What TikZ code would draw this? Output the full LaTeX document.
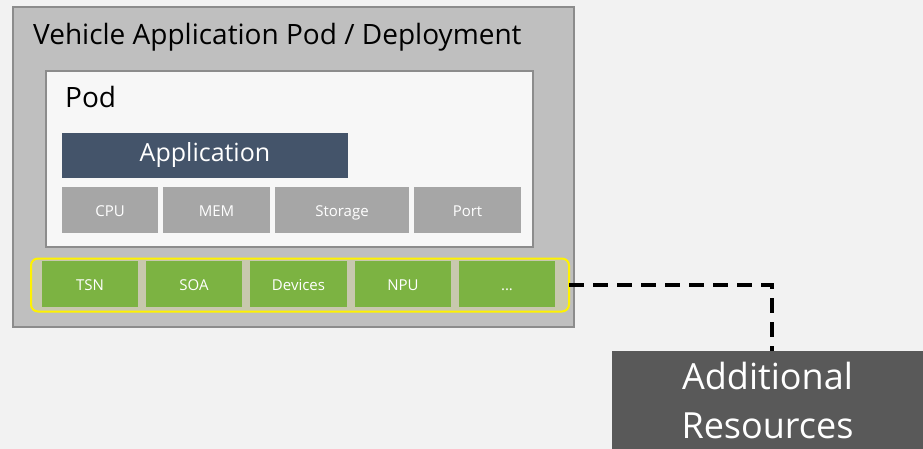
\documentclass[tikz,border=0pt]{standalone}
\usepackage{fontspec}
\setmainfont{Open Sans}
\begin{document}
\begin{tikzpicture}[x=1pt,y=-1pt,
  box/.style={rectangle,inner sep=0pt,outer sep=0pt},
  small/.style={text height=14pt,text depth=2pt,font=\fontsize{15}{18}\selectfont},
  res/.style={box,fill=resgray,minimum height=46pt,text=white,small},
  grn/.style={box,fill=greenbox,minimum height=46pt,text=white,small},
  title/.style={anchor=base west,inner sep=0pt,font=\fontsize{28}{32}\selectfont}]
\definecolor{bg}{HTML}{F2F2F2}
\definecolor{outerfill}{HTML}{BFBFBF}
\definecolor{outerdraw}{HTML}{8C8C8C}
\definecolor{podfill}{HTML}{F7F7F7}
\definecolor{appblue}{HTML}{44546A}
\definecolor{resgray}{HTML}{A6A6A6}
\definecolor{greenbox}{HTML}{7CB342}
\definecolor{frameback}{HTML}{C8C8AE}
\definecolor{addgray}{HTML}{595959}
\fill[bg] (0,0) rectangle (923,449);
\useasboundingbox (0,0) rectangle (923,449);
\node[box,draw=outerdraw,line width=1.5pt,fill=outerfill,minimum width=561pt,minimum height=320pt] (outer) at (293.5,167) {};
\node[title] (vtitle) at (33,45) {Vehicle Application Pod / Deployment};
\node[box,draw=outerdraw,line width=1.5pt,fill=podfill,minimum width=487pt,minimum height=176pt] (pod) at (289.5,159) {};
\node[title] (podtitle) at (65,108) {Pod};
\node[box,fill=appblue,minimum width=286pt,minimum height=45pt,text=white,font=\fontsize{25}{30}\selectfont] (app) at (205,155.5) {Application};
\node[res,minimum width=96pt] (cpu) at (110,210) {CPU};
\node[res,minimum width=107pt] (mem) at (216.5,210) {MEM};
\node[res,minimum width=134pt] (storage) at (342,210) {Storage};
\node[res,minimum width=107pt] (port) at (467.5,210) {Port};
\node[box,draw=yellow,line width=2pt,fill=frameback,rounded corners=7pt,minimum width=538pt,minimum height=53pt] (frame) at (300,285) {};
\node[grn,minimum width=96pt] (tsn) at (90,284) {TSN};
\node[grn,minimum width=96pt] (soa) at (194,284) {SOA};
\node[grn,minimum width=97pt] (dev) at (298.5,284) {Devices};
\node[grn,minimum width=96pt] (npu) at (403,284) {NPU};
\node[grn,minimum width=96pt] (more) at (507,284) {...};
\node[box,fill=addgray,minimum width=311pt,minimum height=98pt,text=white,align=center,font=\fontsize{36}{49}\selectfont] (add) at (767.5,400) {Additional\\Resources};
\draw[line width=4.5pt,dash pattern=on 15pt off 9pt] (frame.east) -| ([xshift=4.5pt]add.north);
\end{tikzpicture}
\end{document}
